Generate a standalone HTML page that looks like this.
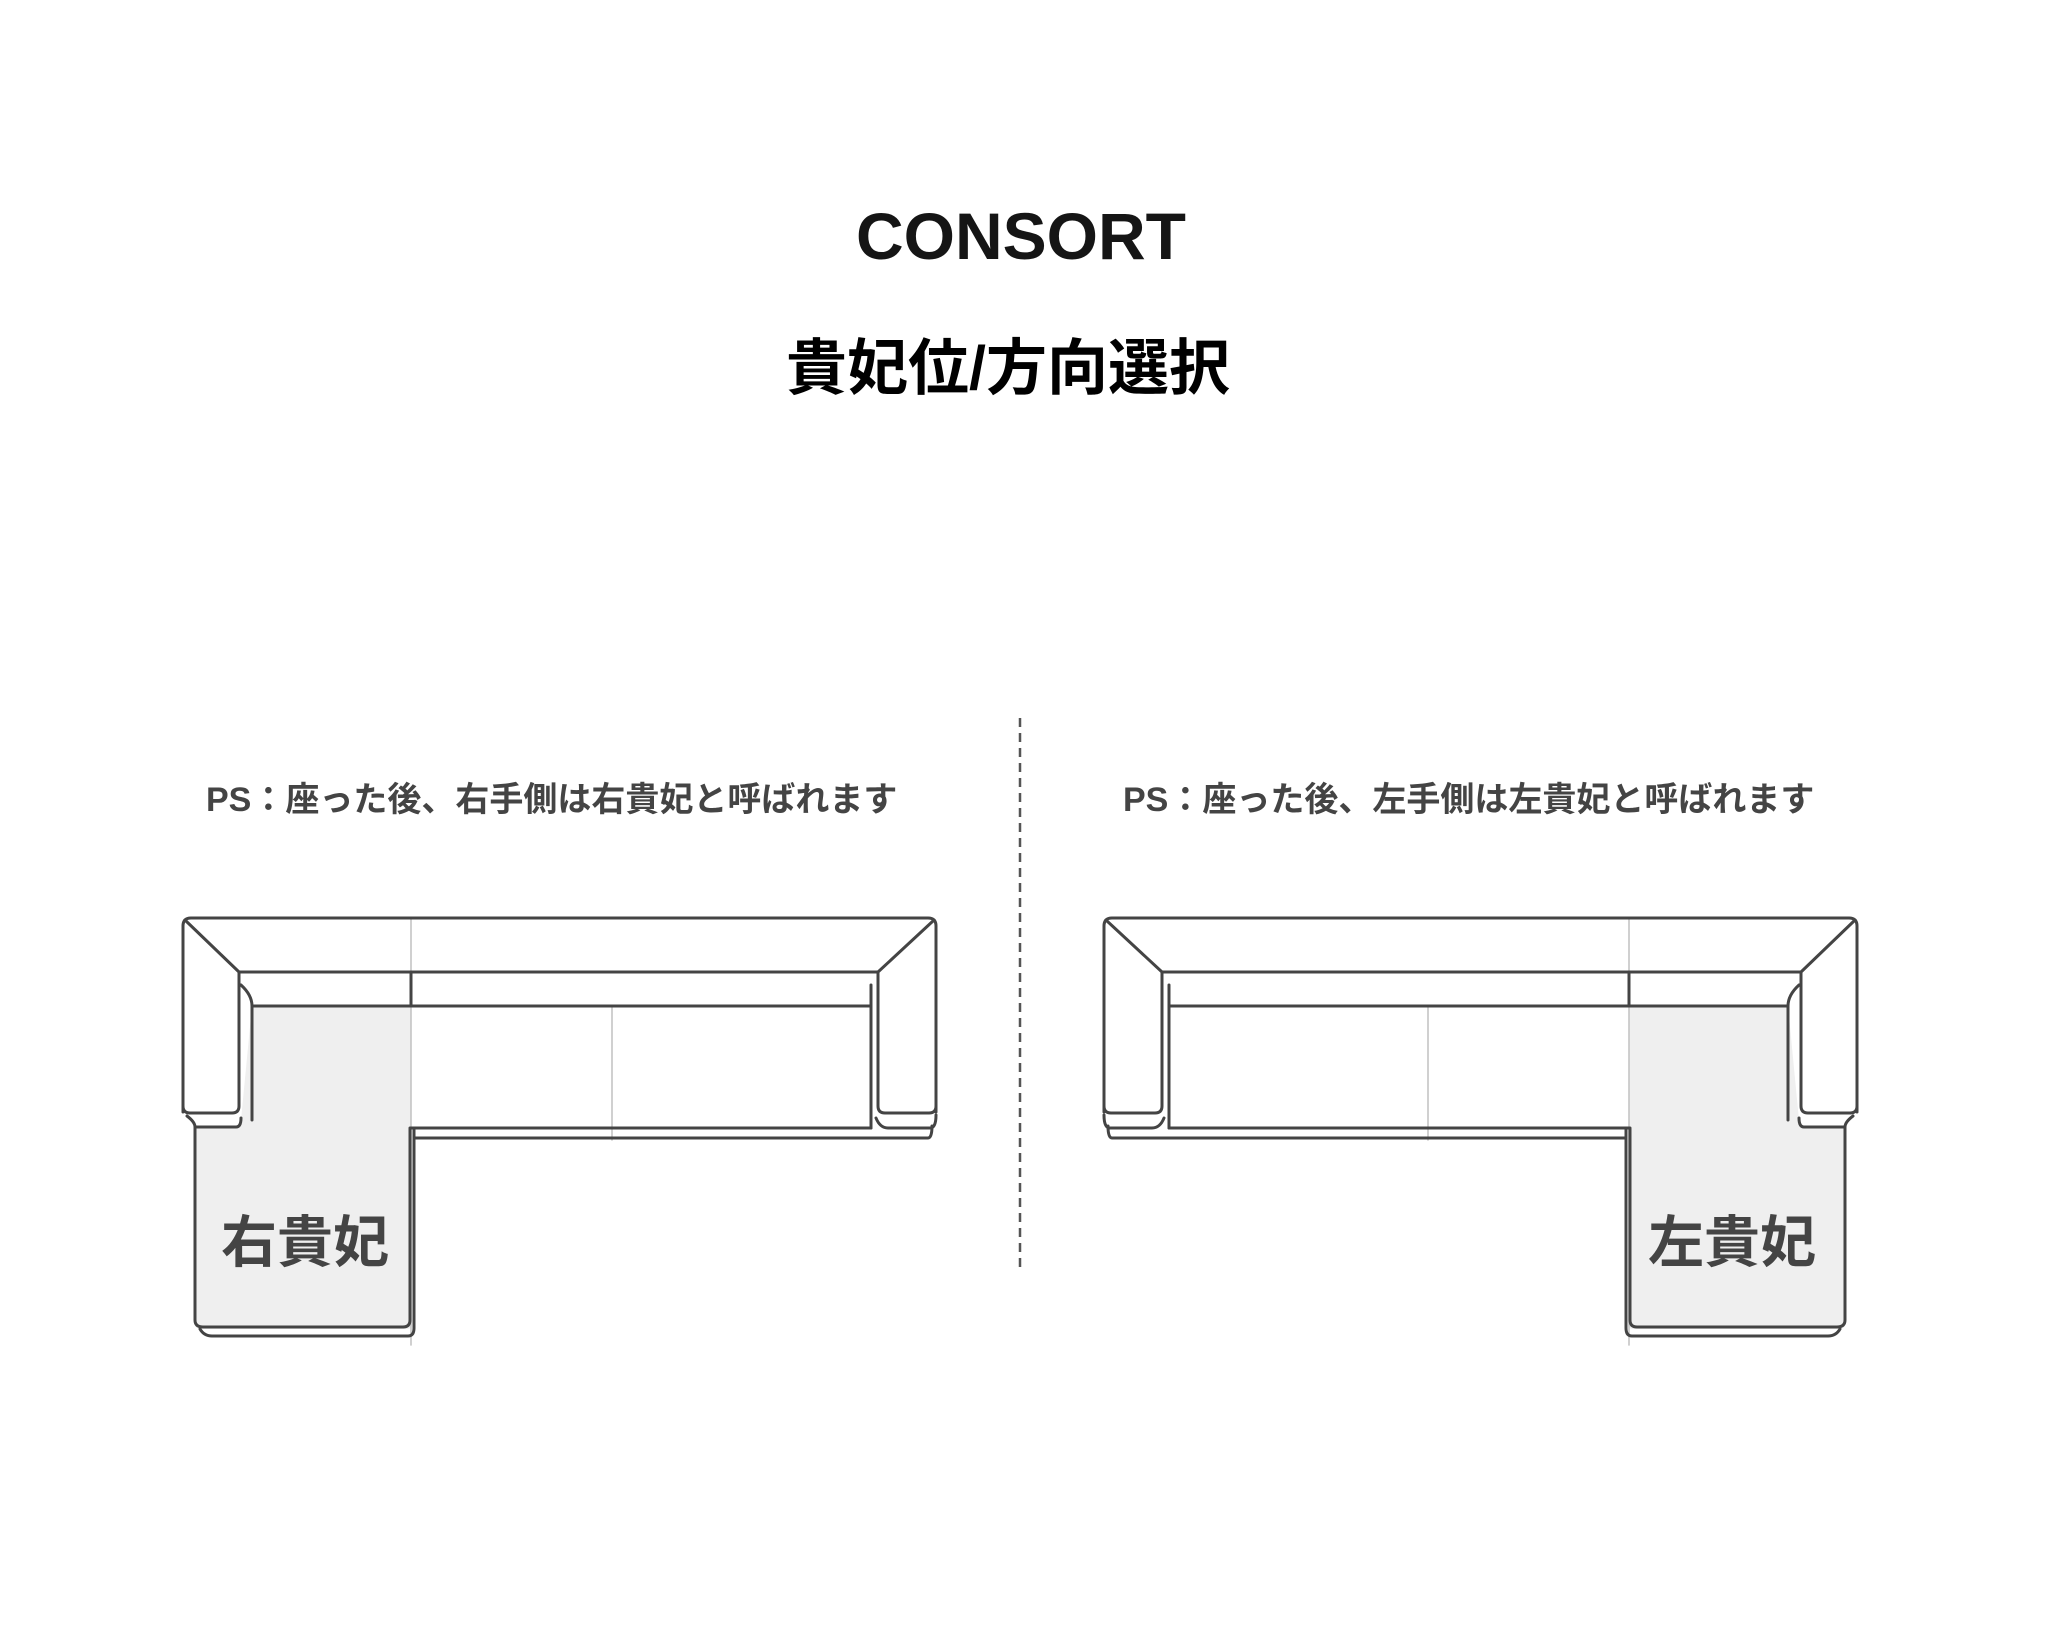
<!DOCTYPE html>
<html><head><meta charset="utf-8"><style>
html,body{margin:0;padding:0;background:#fff;}
body{width:2048px;height:1638px;overflow:hidden;position:relative;}
.t{position:absolute;white-space:nowrap;font-family:"Liberation Sans","Noto Sans CJK JP",sans-serif;font-weight:bold;}
</style></head><body>
<div class="t" style="left:0;width:2042px;text-align:center;top:198px;font-size:66px;color:#151515;letter-spacing:0px;">CONSORT</div>
<div class="t" style="left:0;width:2016px;text-align:center;top:318px;font-size:61px;color:#000;">貴妃位/方向選択</div>
<div class="t" style="left:206px;top:772px;font-size:34px;color:#444;">PS：座った後、右手側は右貴妃と呼ばれます</div>
<div class="t" style="left:1123px;top:772px;font-size:34px;color:#444;">PS：座った後、左手側は左貴妃と呼ばれます</div>
<svg width="2048" height="1638" style="position:absolute;left:0;top:0" xmlns="http://www.w3.org/2000/svg">
<defs>
<g id="sofa" fill="none" stroke-linejoin="round" stroke-linecap="round">
  <path d="M252,1006 L411,1006 L411,1128 L412,1128 L412,1325 Q412,1329 406,1329 L200,1329 Q195,1329 195,1323 L195,1127 L236,1127 Q241,1127 241,1120 L252,1006Z" fill="#efefef" stroke="none"/>
  <g stroke="#c4c4c4" stroke-width="1.6">
    <line x1="411" y1="918" x2="411" y2="1345"/>
    <line x1="612" y1="1006" x2="612" y2="1140"/>
  </g>
  <g stroke="#444" stroke-width="3">
    <path d="M183,1112 L183,926 Q183,918 191,918 L928,918 Q936,918 936,926 L936,1112"/>
    <path d="M186,921 L239,972 L878,972 L933,921"/>
    <path d="M239,972 L239,1106 Q239,1113 232,1113 L190,1113 Q183,1113 183,1106"/>
    <path d="M878,972 L878,1106 Q878,1113 885,1113 L929,1113 Q936,1113 936,1106"/>
    <path d="M241,985 Q252,995 252,1006 L252,1120"/>
    <path d="M871,985 Q871,995 871,1006 L871,1128"/>
    <line x1="252" y1="1006" x2="871" y2="1006"/>
    <line x1="411" y1="972" x2="411" y2="1006"/>
    <path d="M187,1116 Q195,1122 195,1127 L236,1127 Q241,1127 241,1118"/>
    <path d="M195,1127 L195,1320 Q195,1327 203,1327 L403,1327 Q410,1327 410,1320 L410,1128 L871,1128"/>
    <path d="M876,1118 Q880,1128 888,1128 L930,1128 Q936,1128 936,1115"/>
    <path d="M414,1128 L414,1138 L928,1138 Q932,1138 932,1126"/>
    <path d="M200,1329 Q204,1336 212,1336 L408,1336 Q414,1336 414,1328 L414,1138"/>
  </g>
</g>
</defs>
<use href="#sofa"/>
<use href="#sofa" transform="translate(2040,0) scale(-1,1)"/>
<line x1="1020" y1="718" x2="1020" y2="1273" stroke="#555" stroke-width="2.5" stroke-dasharray="9,6"/>
</svg>
<div class="t" style="left:221px;top:1198px;font-size:56px;color:#444;">右貴妃</div>
<div class="t" style="left:1648px;top:1198px;font-size:56px;color:#444;">左貴妃</div>
</body></html>
